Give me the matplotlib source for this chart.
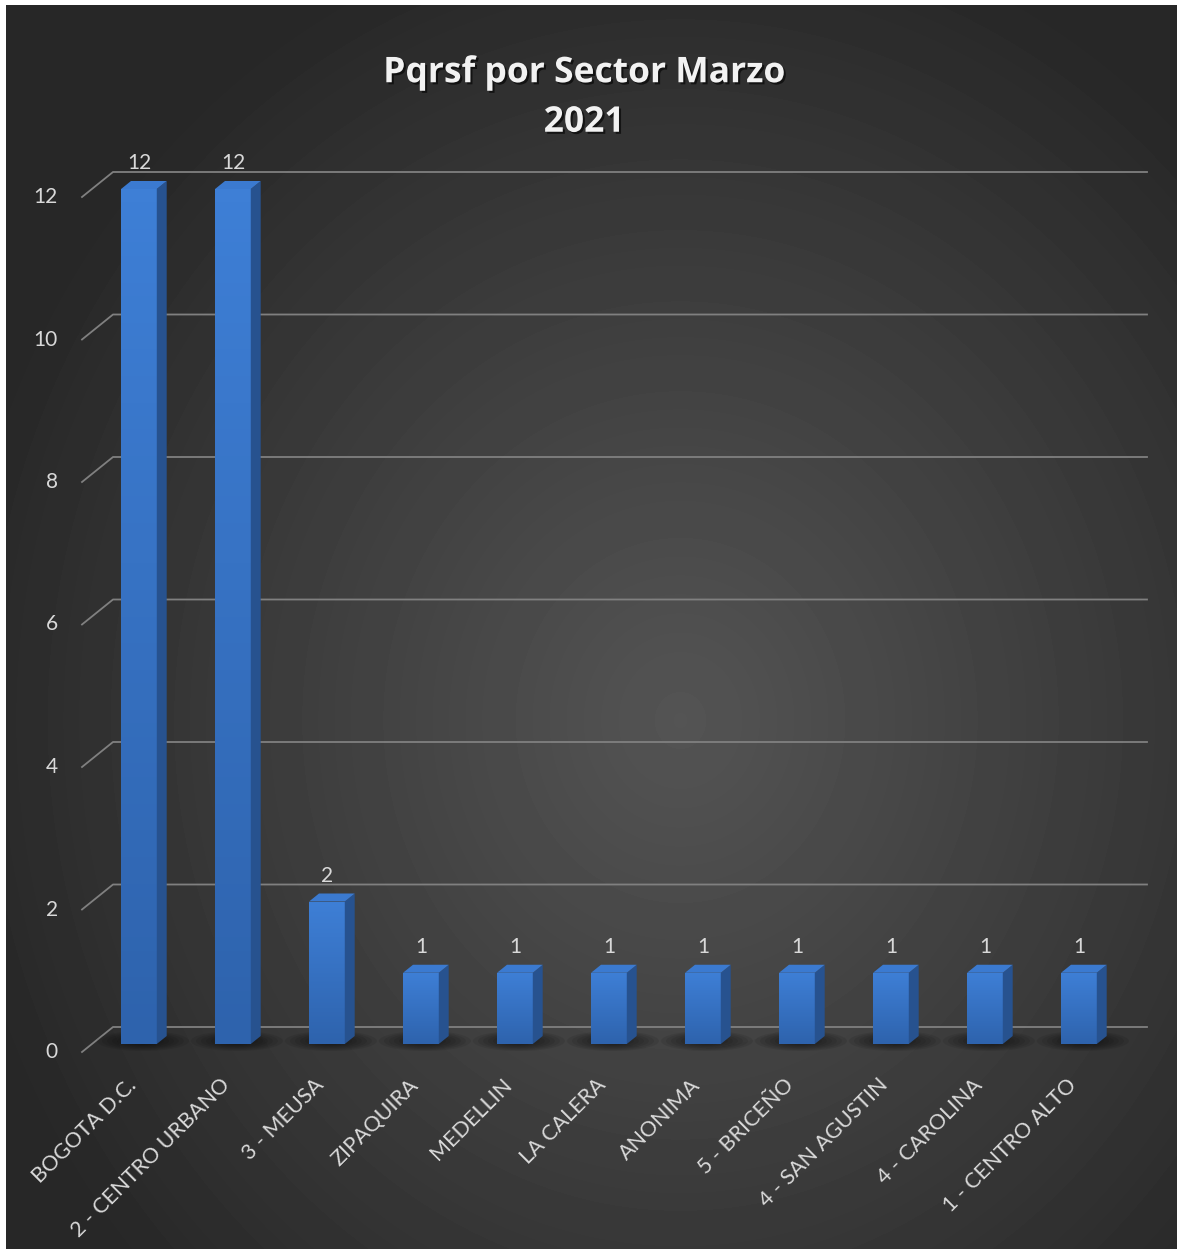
import numpy as np
import matplotlib
matplotlib.use("Agg")
import matplotlib.pyplot as plt
from matplotlib.patches import Polygon, Ellipse, Rectangle
from matplotlib.transforms import offset_copy, IdentityTransform
from matplotlib.colors import LinearSegmentedColormap
import matplotlib.patheffects as pe

plt.rcParams['font.family'] = ['Lato', 'DejaVu Sans']

# datos del grafico
sectores = ["BOGOTA D.C.", "2 - CENTRO URBANO", "3 - MEUSA", "ZIPAQUIRA", "MEDELLIN",
            "LA CALERA", "ANONIMA", "5 - BRICEÑO", "4 - SAN AGUSTIN", "4 - CAROLINA",
            "1 - CENTRO ALTO"]
pqrsf = [12, 12, 2, 1, 1, 1, 1, 1, 1, 1, 1]
y_ticks = [0, 2, 4, 6, 8, 10, 12]
titulo = "Pqrsf por Sector Marzo\n2021"

W, H = 1177, 1249
fig = plt.figure(figsize=(W / 100, H / 100), dpi=100, facecolor="#2a2a2a")

# fondo oscuro con degradado radial
bg = fig.add_axes([0, 0, 1, 1])
bg.set_axis_off()
yy, xx = np.mgrid[0:H, 0:W]
r = np.hypot((xx - 680) / 740, (yy - 720) / 820)
shade = (0x54 - (0x54 - 0x27) * np.clip(r, 0, 1) ** 1.05) / 255
bg.imshow(shade, cmap="gray", vmin=0, vmax=1, aspect="auto", interpolation="bilinear",
          extent=(0, W, H, 0))
bg.set_xlim(0, W)
bg.set_ylim(H, 0)
# marco blanco arriba y a la izquierda
bg.add_patch(Rectangle((0, 0), W, 5, color="white", lw=0))
bg.add_patch(Rectangle((0, 0), 6, H, color="white", lw=0))

# plano frontal del piso 3D
ax = fig.add_axes([82 / W, (H - 1052) / H, (1116 - 82) / W, (1052 - 197) / H])
ax.set_axis_off()
ax.patch.set_alpha(0)
ax.set_xlim(-0.5, 10.5)
ax.set_ylim(0, 12)

DEPTH = (31, 25)      # profundidad del piso en pixeles
F_FRONT, F_BACK = 0.32, 0.64
HALF = 0.19
disp = IdentityTransform()
txt = "#d9d9d9"


def at(x, y, f):
    px, py = ax.transData.transform((x, y))
    return px + DEPTH[0] * f, py + DEPTH[1] * f


def poly(pts, color, z):
    p = Polygon(pts, closed=True, transform=disp, facecolor=color, edgecolor="none",
                zorder=z, clip_on=False)
    ax.add_artist(p)
    return p


# lineas de cuadricula (pared trasera + diagonal)
for v in y_ticks:
    pts = np.array([at(-0.5, v, 0), at(-0.5, v, 1), at(10.5, v, 1)])
    ax.plot(pts[:, 0], pts[:, 1], color="#808080", lw=1.3, transform=disp,
            zorder=1, clip_on=False)
    ax.text(-0.5, v, str(v), transform=offset_copy(ax.transData, fig, x=-24, y=0, units="dots"),
            ha="right", va="center", color=txt, fontsize=15)

# sombras bajo las barras
for i in range(len(pqrsf)):
    cx, cy = at(i, 0, F_FRONT)
    for k in range(7):
        ax.add_artist(Ellipse((cx + 4, cy + 3), 92 - 10 * k, 20 - 2 * k, color="black",
                              alpha=0.08, lw=0, transform=disp, zorder=2, clip_on=False))

front_cmap = LinearSegmentedColormap.from_list("frente", ["#2e63ad", "#3e7fd6"])
front_tr = offset_copy(ax.transData, fig, x=DEPTH[0] * F_FRONT, y=DEPTH[1] * F_FRONT, units="dots")
grad = np.linspace(0, 1, 64).reshape(-1, 1)

for i, v in enumerate(pqrsf):
    fl, fr = at(i - HALF, 0, F_FRONT), at(i + HALF, 0, F_FRONT)
    ftl, ftr = at(i - HALF, v, F_FRONT), at(i + HALF, v, F_FRONT)
    br, btr, btl = at(i + HALF, 0, F_BACK), at(i + HALF, v, F_BACK), at(i - HALF, v, F_BACK)

    front = poly([fl, fr, ftr, ftl], "#3572c4", 3)
    im = ax.imshow(grad, cmap=front_cmap, origin="lower", aspect="auto",
                   extent=(i - HALF, i + HALF, 0, v), transform=front_tr, zorder=4)
    im.set_clip_box(fig.bbox)
    im.set_clip_path(front)
    poly([fr, br, btr, ftr], "#27528f", 4)
    poly([ftl, ftr, btr, btl], "#3b7ad0", 4)

    ax.text(i, v, str(v), transform=offset_copy(ax.transData, fig, x=10, y=34, units="dots"),
            ha="center", va="center", color=txt, fontsize=15, zorder=6)

for i, name in enumerate(sectores):
    ax.text(i, 0, name, transform=offset_copy(ax.transData, fig, x=4, y=-30, units="dots"),
            rotation=45, rotation_mode="anchor", ha="right", va="center",
            color=txt, fontsize=15.5)

ax.set_xlim(-0.5, 10.5)
ax.set_ylim(0, 12)

fig.text(584 / W, 1 - 98 / H, titulo, ha="center", va="center", fontsize=25.5,
         fontweight="bold", color="#f2f2f2", linespacing=1.5, family=["Open Sans", "DejaVu Sans"],
         path_effects=[pe.withSimplePatchShadow(offset=(1.5, -1.5), shadow_rgbFace="black", alpha=0.6)])

fig.savefig("out.png", dpi=100, facecolor=fig.get_facecolor())
